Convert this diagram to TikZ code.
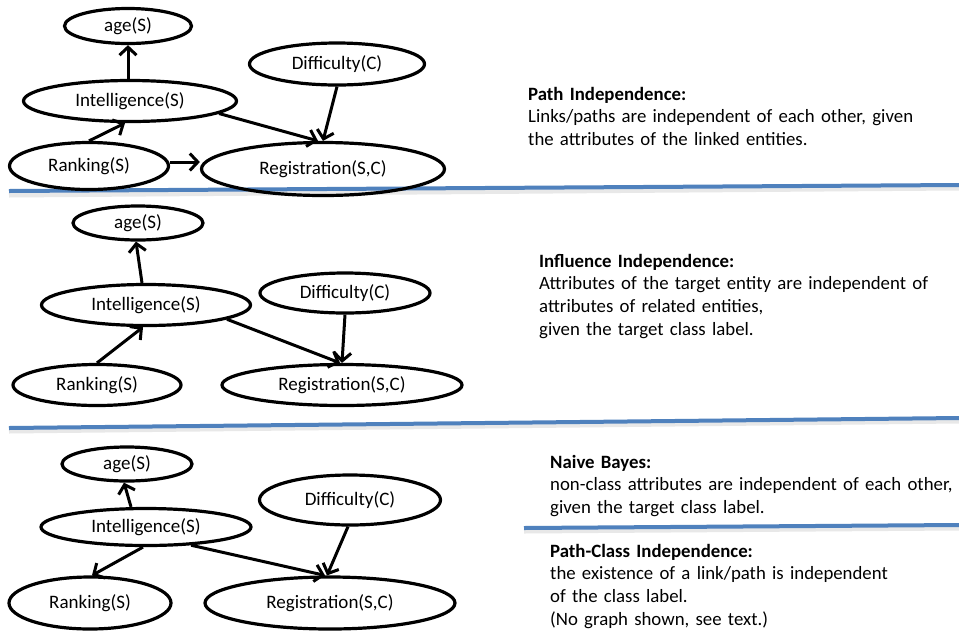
\documentclass[tikz,border=0pt]{standalone}
\usepackage{fontspec}
\setmainfont{Carlito}
\usetikzlibrary{shapes.geometric,arrows.meta,calc}
\definecolor{sepblue}{RGB}{79,129,189}
\begin{document}
\begin{tikzpicture}[x=1pt,y=-1pt,
  var/.style={draw=black, line width=3.2pt, ellipse, inner sep=0pt, font=\fontsize{19}{22}\selectfont},
  dep/.style={line width=3pt, -{Straight Barb[length=8pt,width=17pt,line width=3pt]}},
  sepline/.style={line width=4pt, draw=sepblue},
  sepshadow/.style={line width=5pt, draw=black!9},
  desc/.style={anchor=base west, inner sep=0pt, text width=430pt, align=left, font=\fontsize{18.8}{22.8}\selectfont}
]
\fill[white] (0,0) rectangle (959,633);
\useasboundingbox (0,0) rectangle (959,633);

% separators
\draw[sepshadow] (9,195) -- (959,188);
\draw[sepline] (9,191) -- (959,185);
\draw[sepshadow] (9,431) -- (959,421);
\draw[sepline] (9,428) -- (959,418);
\draw[sepshadow] (524,531) -- (959,528);
\draw[sepline] (524,528) -- (959,525);

% panel 1
\node[var, minimum width=127pt, minimum height=35pt] (a1) at (128,26) {age(S)};
\node[var, minimum width=175pt, minimum height=42pt] (d1) at (337,64) {Difficulty(C)};
\node[var, minimum width=213pt, minimum height=41pt] (i1) at (130,101) {Intelligence(S)};
\node[var, minimum width=159pt, minimum height=47pt] (r1) at (89,166) {Ranking(S)};
\node[var, minimum width=243pt, minimum height=53pt] (g1) at (323,169) {Registration(S,C)};
\draw[dep] ([xshift=-2pt]i1.north) -- (a1.south);
\draw[dep] (r1.north) -- ([xshift=-5pt]i1.south);
\draw[dep] (i1.-8) -- ([xshift=-5pt]g1.north);
\draw[dep] (d1.south) -- (g1.north);
\draw[dep] ([yshift=4pt]r1.east) -- ([yshift=4pt]r1.east -| g1.west);

% panel 2
\node[var, minimum width=130pt, minimum height=34pt] (a2) at (138,223) {age(S)};
\node[var, minimum width=170pt, minimum height=40pt] (d2) at (345,293) {Difficulty(C)};
\node[var, minimum width=209pt, minimum height=41pt] (i2) at (146,305) {Intelligence(S)};
\node[var, minimum width=168pt, minimum height=41pt] (r2) at (97,385) {Ranking(S)};
\node[var, minimum width=240pt, minimum height=41pt] (g2) at (342,385) {Registration(S,C)};
\draw[dep] ([xshift=-4pt]i2.north) -- ([xshift=-2pt]a2.south);
\draw[dep] (r2.north) -- ([xshift=-3pt]i2.south);
\draw[dep] (i2.-10) -- ([xshift=-2pt]g2.north);
\draw[dep] (d2.south) -- (g2.north);

% panel 3
\node[var, minimum width=130pt, minimum height=34pt] (a3) at (127,464) {age(S)};
\node[var, minimum width=181pt, minimum height=50pt] (d3) at (350,500) {Difficulty(C)};
\node[var, minimum width=210pt, minimum height=37pt] (i3) at (146,527) {Intelligence(S)};
\node[var, minimum width=162pt, minimum height=52pt] (r3) at (90,603) {Ranking(S)};
\node[var, minimum width=250pt, minimum height=52pt] (g3) at (330,603) {Registration(S,C)};
\draw[dep] ([xshift=-15pt]i3.north) -- ([xshift=-3pt]a3.south);
\draw[dep] ([xshift=-3pt]i3.south) -- ([xshift=2pt]r3.north);
\draw[dep] (i3.-22) -- ([xshift=-5pt]g3.north);
\draw[dep] ([xshift=-2pt]d3.south) -- ([xshift=-3pt]g3.north);

% descriptions
\node[desc] (t1) at (528,100) {\textbf{Path Independence:}\\Links/paths are independent of each other, given\\the attributes of the linked entities.};
\node[desc] (t2) at (539,267) {\textbf{Influence Independence:}\\Attributes of the target entity are independent of\\attributes of related entities,\\given the target class label.};
\node[desc] (t3) at (550,468) {\textbf{Naive Bayes:}\\non-class attributes are independent of each other,\\given the target class label.};
\node[desc] (t4) at (550,557) {\textbf{Path-Class Independence:}\\the existence of a link/path is independent\\of the class label.\\(No graph shown, see text.)};
\end{tikzpicture}
\end{document}
